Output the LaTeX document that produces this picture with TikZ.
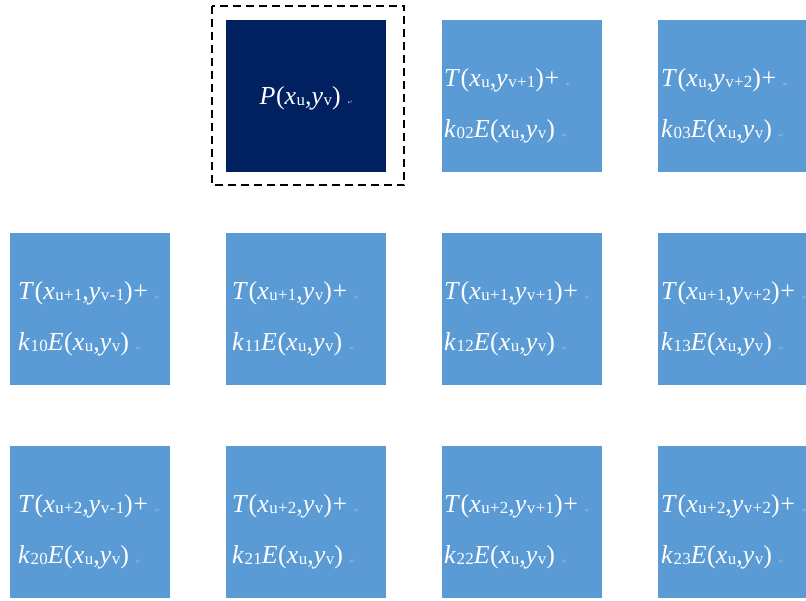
\documentclass[tikz,border=0pt]{standalone}
\usepackage{fontspec}
\setmainfont{Liberation Serif}[LetterSpace=2]
\newfontfamily\markfont{DejaVu Sans}
\usetikzlibrary{positioning}
\definecolor{cblue}{HTML}{5B9BD5}
\definecolor{cnavy}{HTML}{002060}
\definecolor{cmark}{HTML}{B4C4D4}
\newcommand\mv[1]{\textit{#1}}
\newcommand\sub[1]{\raisebox{-1bp}{\fontsize{17}{17}\selectfont #1}}
\newcommand\pmark{\hspace{7bp}{\markfont\fontsize{6}{6}\selectfont\textcolor{cmark}{↵}}}
\newcommand\Exy{\mv{E}(\mv{x}\sub{u},\mv{y}\sub{v})}

\begin{document}
\begin{tikzpicture}[x=1bp, y=-1bp,
  cell/.style={fill=cblue, minimum width=160bp, minimum height=152bp, inner sep=0pt, anchor=north west},
  txt/.style={text=white, align=left, anchor=west, inner sep=0pt, yshift=-10bp, font=\fontsize{26}{51}\selectfont},
  frame/.style={draw=black, line width=2bp, dash pattern=on 8bp off 5bp},
]
\clip (0,0) rectangle (806,601);
% top row
\node[cell, fill=cnavy] (c01) at (226,20) {};
\node[txt, anchor=center, yshift=8bp] (t01) at (c01.center) {\mv{P}(\mv{x}\sub{u},\mv{y}\sub{v})\pmark};
\draw[frame] ([shift={(-14bp,14bp)}]c01.north west) rectangle ([shift={(18bp,-13bp)}]c01.south east);
\foreach \c/\cx/\ys/\ins in {2/442/v+1/2, 3/658/v+2/3} {
  \node[cell] (c0\c) at (\cx,20) {};
  \node[txt] (t0\c) at ([xshift=\ins bp]c0\c.west)
    {\mv{T}(\mv{x}\sub{u},\mv{y}\sub{\ys})+\pmark\\\mv{k}\sub{0\c}\Exy\pmark};
}
% rows u+1 and u+2
\foreach \r/\cy/\xs in {1/233/u+1, 2/446/u+2}
  \foreach \c/\cx/\ys/\ins in {0/10/v-1/8, 1/226/v/6, 2/442/v+1/2, 3/658/v+2/3} {
    \node[cell] (c\r\c) at (\cx,\cy) {};
    \node[txt] (t\r\c) at ([xshift=\ins bp]c\r\c.west)
      {\mv{T}(\mv{x}\sub{\xs},\mv{y}\sub{\ys})+\pmark\\\mv{k}\sub{\r\c}\Exy\pmark};
  }
\end{tikzpicture}
\end{document}
